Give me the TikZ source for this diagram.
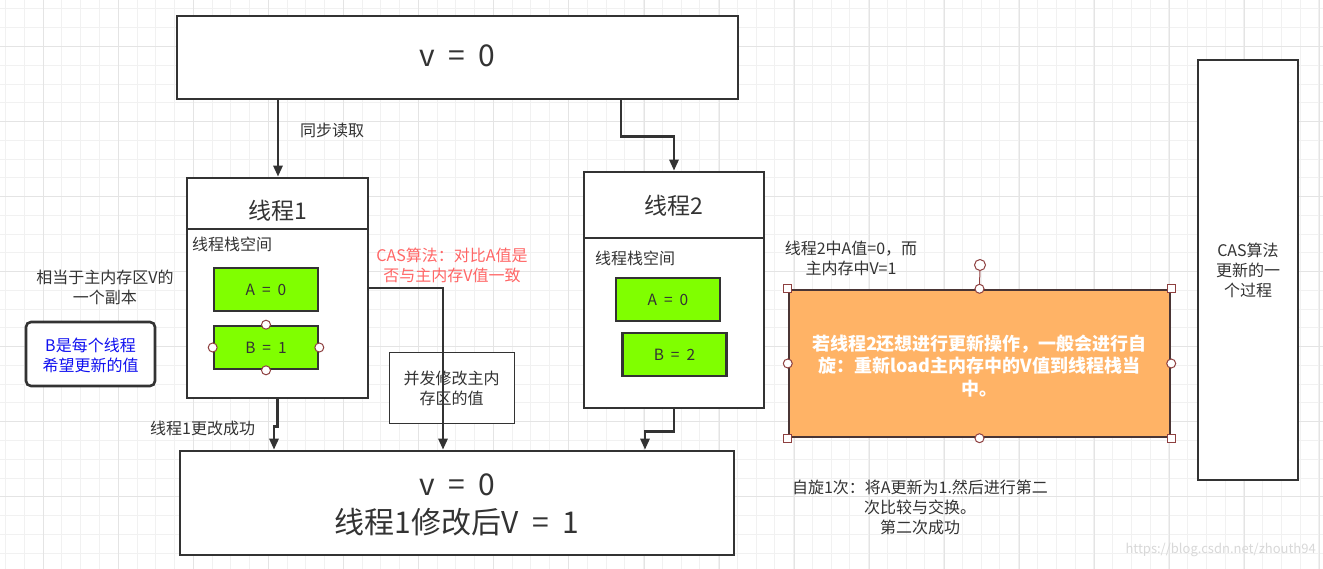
\documentclass[tikz,border=0pt]{standalone}
\usepackage{fontspec}
\setmainfont{Noto Sans CJK SC}
\usetikzlibrary{arrows.meta}
\definecolor{ink}{HTML}{333333}
\definecolor{gridminor}{HTML}{F1F1F1}
\definecolor{gridmajor}{HTML}{E4E4E4}
\definecolor{limegreen}{HTML}{80FF00}
\definecolor{orangefill}{HTML}{FFB366}
\definecolor{orangeline}{HTML}{4A3535}
\definecolor{handle}{HTML}{8E4040}
\definecolor{casred}{HTML}{FF6666}
\definecolor{noteblue}{HTML}{1010F0}
\definecolor{wmark}{HTML}{D8D8D8}
\newcommand{\eqsp}{\hspace{0.45em}=\hspace{0.45em}}
\tikzset{
  bigbox/.style={draw=ink, line width=2.6pt, fill=white, inner sep=0pt},
  thinbox/.style={draw=ink, line width=0.9pt, fill=white, inner sep=0pt},
  varbox/.style={draw=ink, line width=2.6pt, fill=limegreen, inner sep=0pt,
    minimum width=104pt, minimum height=43pt, text=ink, font=\fontsize{15.5}{18}\selectfont},
  lbl/.style={text=ink, inner sep=0pt, align=center, font=\fontsize{16}{20}\selectfont},
  bigtxt/.style={text=ink, inner sep=0pt, align=center, font=\fontsize{30}{38}\selectfont},
  titletxt/.style={text=ink, inner sep=0pt, font=\fontsize{23}{26}\selectfont},
  arr/.style={draw=ink, line width=2.6pt, -{Triangle[length=11pt,width=9pt]}},
  plainline/.style={draw=ink, line width=2.6pt},
  hcirc/.style={circle, draw=handle, fill=white, line width=1pt, minimum size=9pt, inner sep=0pt},
  hsq/.style={rectangle, draw=handle, fill=white, line width=1pt, minimum size=8pt, inner sep=0pt}
}
\begin{document}
\begin{tikzpicture}[x=1pt,y=-1pt]
\useasboundingbox (0,0) rectangle (1323,569);
\fill[white] (0,0) rectangle (1323,569);
% grid
\foreach \i in {0,...,70} {
  \draw[gridminor, line width=1pt] ({5.7+18.76*\i},0) -- ({5.7+18.76*\i},569);
}
\foreach \i in {0,...,30} {
  \draw[gridminor, line width=1pt] (0,{9+18.76*\i}) -- (1323,{9+18.76*\i});
}
\foreach \i in {0,...,17} {
  \draw[gridmajor, line width=1pt] ({43.7+75.04*\i},0) -- ({43.7+75.04*\i},569);
}
\foreach \i in {-1,...,7} {
  \draw[gridmajor, line width=1pt] (0,{46.7+75.04*\i}) -- (1323,{46.7+75.04*\i});
}

% main memory boxes
\node[bigbox, minimum width=561pt, minimum height=83pt] (top) at (457.5,57.5) {};
\node[bigtxt] (toptxt) at (457.5,56) {v\eqsp0};
\node[bigbox, minimum width=554pt, minimum height=104pt] (bot) at (457,503) {};
\node[bigtxt] (bottxt) at (457,505) {v\eqsp0\\线程1修改后V\eqsp1};

% concurrent modify box
\node[thinbox, minimum width=125pt, minimum height=71pt] (conc) at (451.5,387.5) {};
\node[lbl] (conctxt) at (451.5,388) {并发修改主内\\存区的值};

% thread 1
\node[bigbox, minimum width=181pt, minimum height=220pt] (t1) at (277.5,288) {};
\coordinate (t1dl) at (187,229);
\coordinate (t1dr) at (368,229);
\draw[plainline] (t1dl) -- (t1dr);
\node[titletxt] (t1title) at (277.5,211) {线程1};
\node[lbl, anchor=west] (t1stack) at (192,244) {线程栈空间};
\node[varbox] (a1) at (266,289.5) {A\eqsp0};
\node[varbox] (b1) at (266,347.5) {B\eqsp1};
\node[hcirc] (b1n) at (b1.north) {};
\node[hcirc] (b1s) at (b1.south) {};
\node[hcirc] (b1w) at (b1.west) {};
\node[hcirc] (b1e) at (b1.east) {};

% thread 2
\node[bigbox, minimum width=180pt, minimum height=236pt] (t2) at (674,290) {};
\coordinate (t2dl) at (584,238);
\coordinate (t2dr) at (764,238);
\draw[plainline] (t2dl) -- (t2dr);
\node[titletxt] (t2title) at (674,206) {线程2};
\node[lbl, anchor=west] (t2stack) at (595,258) {线程栈空间};
\node[varbox] (a2) at (668,299.5) {A\eqsp0};
\node[varbox] (b2) at (674.5,354.5) {B\eqsp2};

% connectors
\coordinate (ra) at (278,0);
\draw[arr] (top.south -| ra) -- (t1.north -| ra);
\coordinate (rb) at (621,0);
\draw[arr] (top.south -| rb) -- ++(0,36) -| (t2.north);
\coordinate (rc) at (443,0);
\draw[arr] (t1.east) -| (bot.north -| rc);
\coordinate (rd) at (274,0);
\draw[arr] (t1.south) -- ++(0,27) -| (bot.north -| rd);
\coordinate (re) at (645,0);
\draw[arr] (t2.south) -- ++(0,22) -| (bot.north -| re);

% labels
\node[lbl, anchor=west] (sync) at (300,130) {同步读取};
\node[lbl, anchor=west] (succ1) at (150,428) {线程1更改成功};
\node[lbl, text=casred] (cas) at (452,265) {CAS算法：对比A值是\\否与主内存V值一致};
\node[lbl] (copy) at (105,287) {相当于主内存区V的\\一个副本};
\node[draw=ink, line width=2.6pt, rounded corners=5pt, fill=white,
  minimum width=129pt, minimum height=64pt, inner sep=0pt] (note) at (90.5,354) {};
\node[lbl, text=noteblue] (notetxt) at (90.5,355) {B是每个线程\\希望更新的值};
\node[lbl] (t2note) at (851,258) {线程2中A值=0，而\\主内存中V=1};

% orange box
\node[draw=orangeline, line width=2.4pt, fill=orangefill, minimum width=381pt,
  minimum height=147pt, inner sep=0pt] (orange) at (979.5,363.5) {};
\node[text=white, inner sep=0pt, align=center, font=\fontsize{18}{22.5}\selectfont\bfseries] (orangetxt) at (979.5,366)
  {若线程2还想进行更新操作，一般会进行自\\旋：重新load主内存中的V值到线程栈当\\中。};
\node[hsq] (on1) at (orange.north west) {};
\node[hsq] (on2) at (orange.north east) {};
\node[hsq] (on3) at (orange.south west) {};
\node[hsq] (on4) at (orange.south east) {};
\node[hcirc] (oc1) at (orange.north) {};
\node[hcirc] (oc2) at (orange.south) {};
\node[hcirc] (oc3) at (orange.west) {};
\node[hcirc] (oc4) at (orange.east) {};
\node[hcirc, minimum size=11pt] (orot) at (980,265) {};
\draw[handle, line width=1pt] (orot) -- (oc1);

% right box
\node[bigbox, minimum width=100pt, minimum height=420pt] (cas2) at (1248,270) {};
\node[lbl] (cas2txt) at (1248,270) {CAS算法\\更新的一\\个过程};

% bottom right
\node[lbl] (spin) at (920,507) {自旋1次：将A更新为1.然后进行第二\\次比较与交换。\\第二次成功};
\node[text=wmark, inner sep=0pt, anchor=east, font=\fontsize{13}{16}\selectfont] (wm) at (1316,550) {https://blog.csdn.net/zhouth94};
\end{tikzpicture}
\end{document}
